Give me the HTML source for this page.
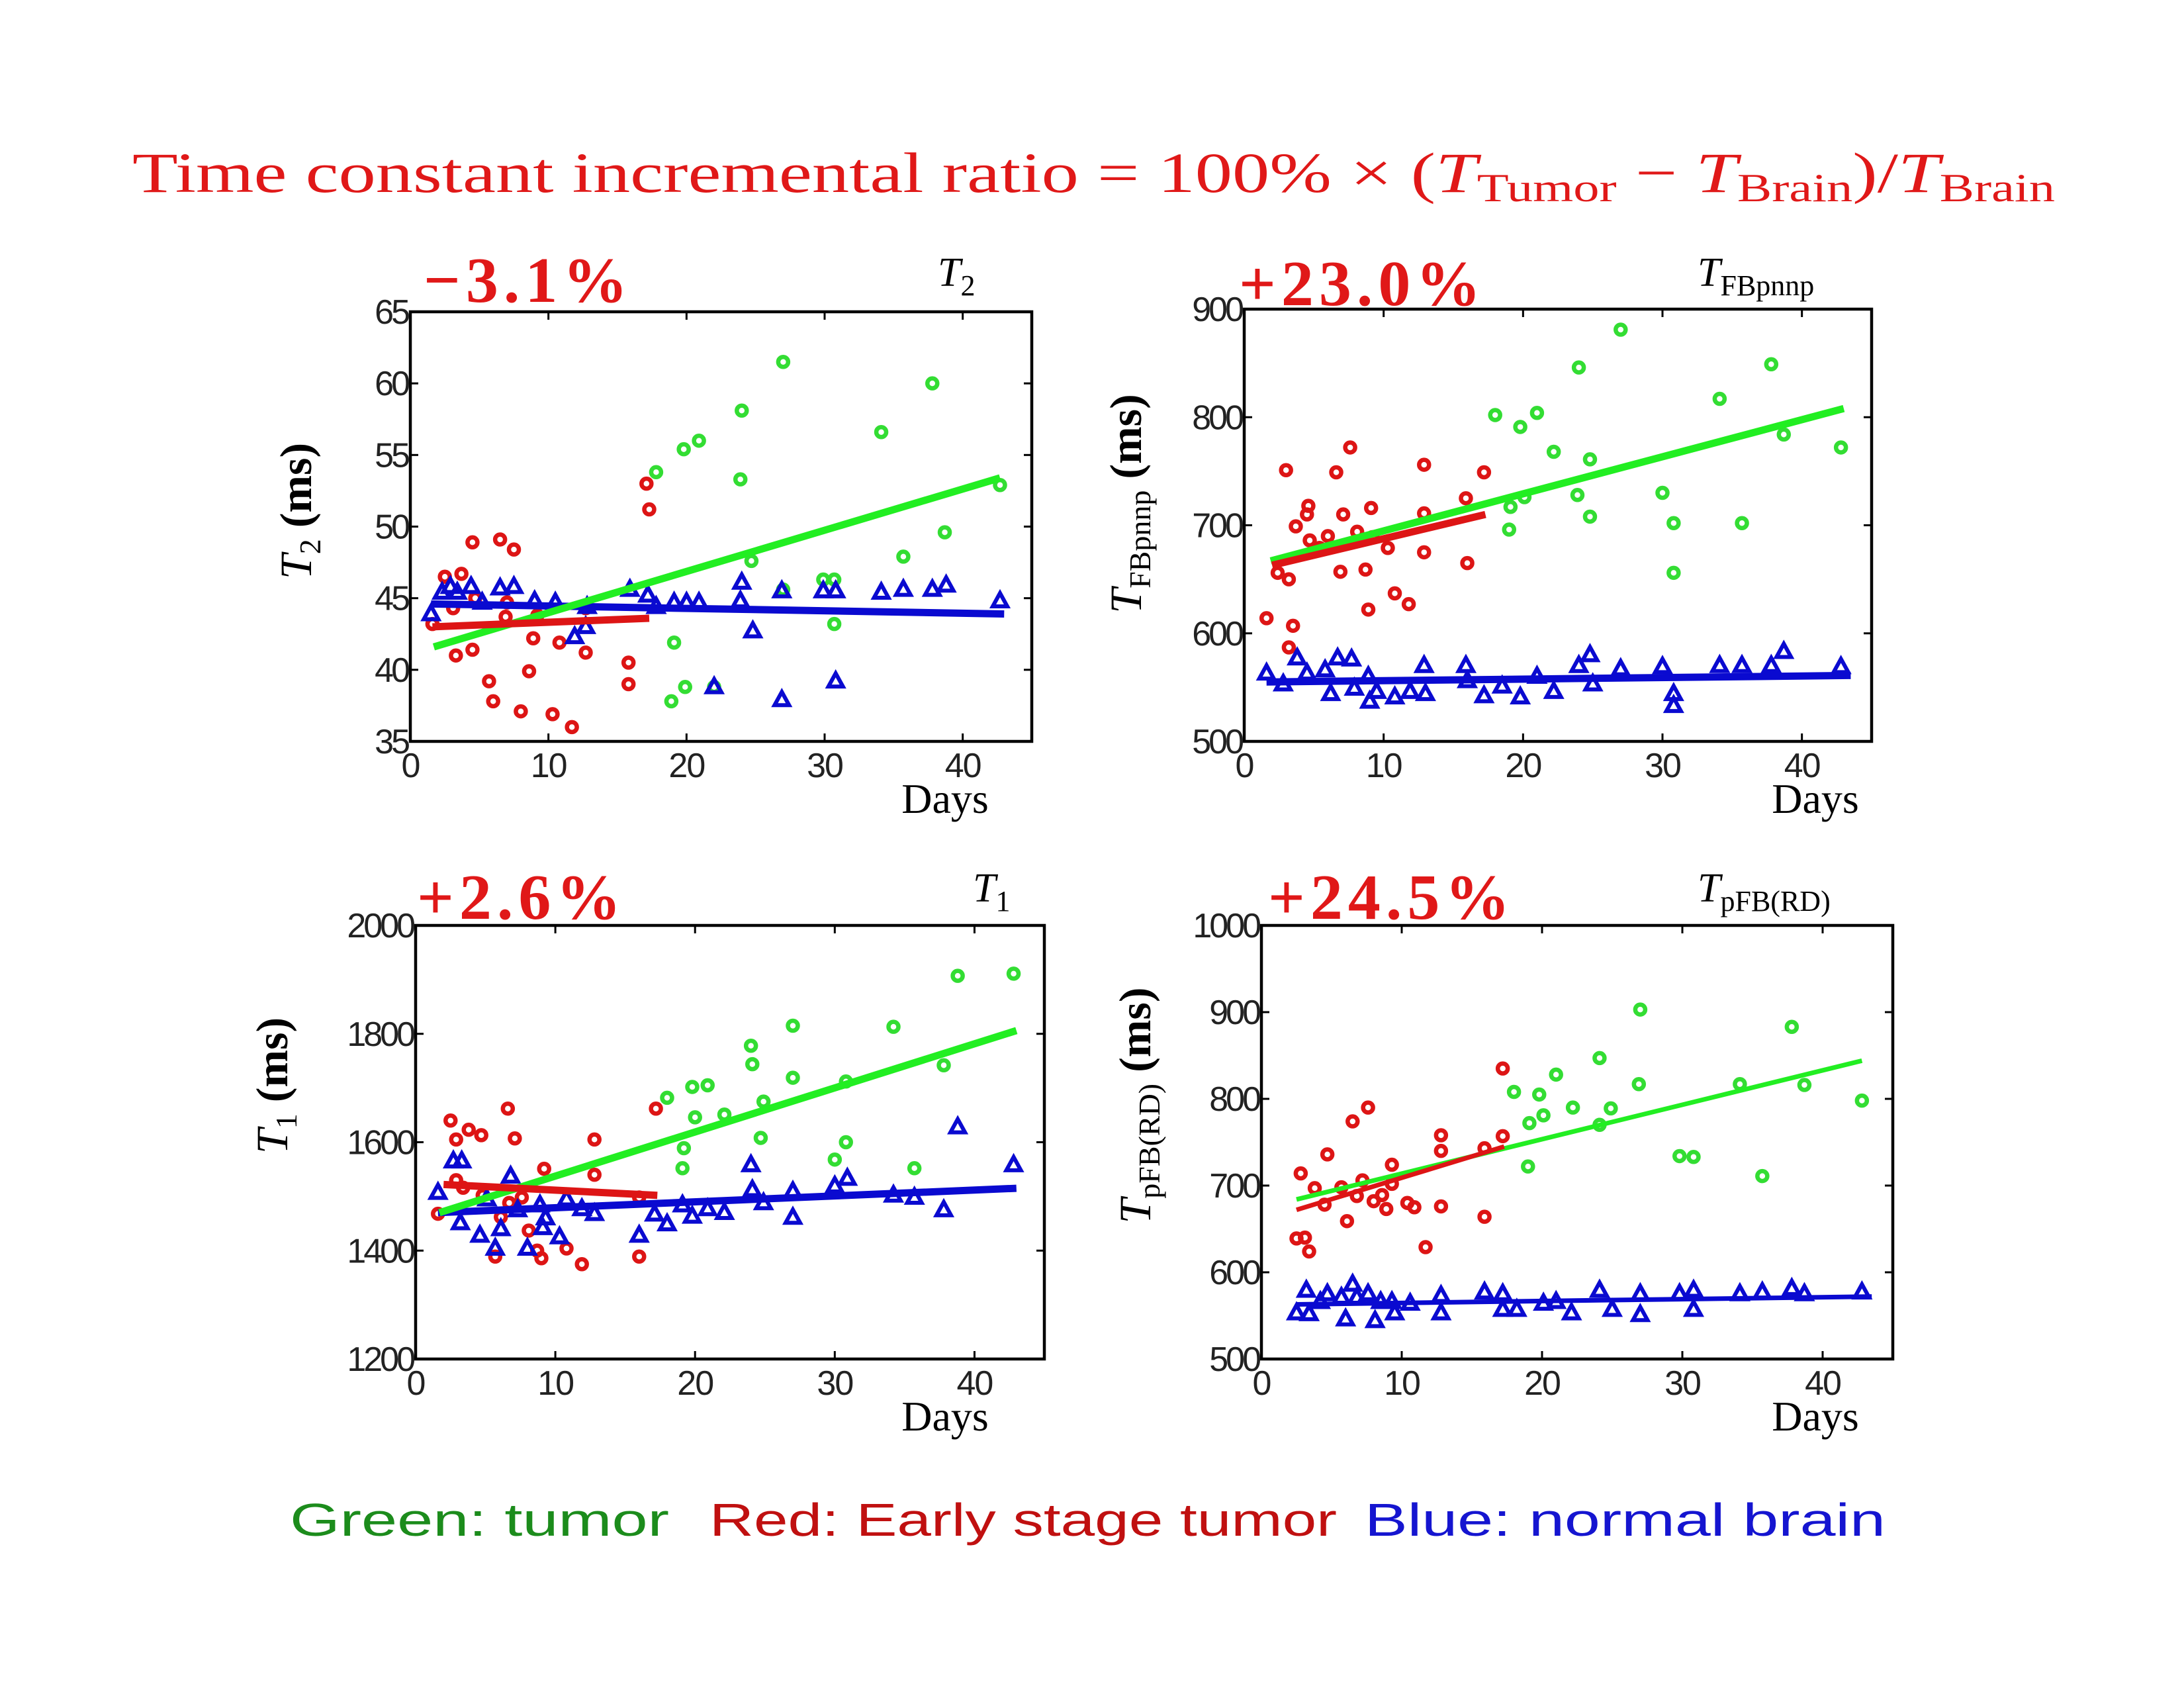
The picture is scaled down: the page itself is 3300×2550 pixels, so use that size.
<!DOCTYPE html>
<html><head><meta charset="utf-8"><style>
html,body{margin:0;padding:0;background:#fff;}
svg{display:block;}
</style></head><body>
<svg id="fig" width="3300" height="2550" viewBox="0 0 3300 2550" xmlns="http://www.w3.org/2000/svg">
<rect width="3300" height="2550" fill="#fff"/>
<text x="200" y="290" fill="#e01818" font-family="Liberation Serif, serif" font-size="86" textLength="2905" lengthAdjust="spacingAndGlyphs">Time constant incremental ratio = 100% × (<tspan font-style="italic">T</tspan><tspan font-size="60" dy="14">Tumor</tspan><tspan dy="-14"> − </tspan><tspan font-style="italic">T</tspan><tspan font-size="60" dy="14">Brain</tspan><tspan dy="-14">)/</tspan><tspan font-style="italic">T</tspan><tspan font-size="60" dy="14">Brain</tspan></text>
<g font-family="Liberation Sans, sans-serif" font-size="70">
<text x="438" y="2320" fill="#1c8c1c" textLength="573" lengthAdjust="spacingAndGlyphs">Green: tumor</text>
<text x="1072" y="2320" fill="#c01010" textLength="948" lengthAdjust="spacingAndGlyphs">Red: Early stage tumor</text>
<text x="2062" y="2320" fill="#1515d0" textLength="787" lengthAdjust="spacingAndGlyphs">Blue: normal brain</text>
</g>
</svg>
<script>
// ---------- Panel 1: T2 ----------
const p1GreenX=[27,37.8,24,34.1,19.8,20.9,17.8,23.9,42.7,38.7,24.7,35.7,29.9,30.7,27,30.7,19.1,19.9,18.9,22];
const p1GreenY=[61.5,60.0,58.1,56.6,55.4,56.0,53.8,53.3,52.9,49.6,47.6,47.9,46.3,46.3,45.6,43.2,41.9,38.8,37.8,38.8];
const p1RedX=[1.6,2.5,3.7,3.1,3.3,4.5,4.5,6.5,7.5,4.7,7.0,6.9,5.7,6.0,8.0,8.6,8.9,9.2,10.3,11.7,10.8,12.7,12.7,15.8,15.8,17.1,17.3];
const p1RedY=[43.2,46.5,46.7,44.3,41.0,41.4,48.9,49.1,48.4,45.0,44.7,43.7,39.2,37.8,37.1,39.9,42.2,43.8,36.9,36.0,41.9,41.2,44.3,40.5,39.0,53.0,51.2];
const p1BlueX=[1.5,2.3,2.9,3.4,4.4,5.2,6.5,7.5,9.0,10.5,11.9,12.7,12.8,15.9,17.2,17.8,19.1,20.0,20.9,22,24,23.9,24.8,26.9,26.9,29.9,30.8,30.8,34.1,35.7,37.8,38.8,42.7];
const p1BlueY=[43.9,45.4,45.8,45.4,45.8,44.7,45.7,45.8,44.8,44.7,42.3,43.0,44.4,45.6,45.2,44.4,44.7,44.7,44.7,38.8,46.1,44.8,42.7,37.9,45.5,45.5,45.5,39.2,45.4,45.6,45.6,45.9,44.8];
const p1GreenFit=[1.7,41.6,42.7,53.4];
const p1RedFit=[1.6,43.0,17.3,43.6];
const p1BlueFit=[1.5,44.6,43,43.9];
const p1YTicks=[35,40,45,50,55,60,65];
// ---------- Panel 2: T_FBpnnp ----------
const p2GreenX=[27,37.8,24,34.1,18,19.8,21,22.2,24.8,42.8,38.7,23.9,30,19.1,20.1,19,24.8,30.8,35.7,30.8];
const p2GreenY=[881,849,846,817,802,791,804,768,761,772,784,728,730,717,726,696,708,702,702,656];
const p2RedX=[1.6,3.0,2.4,3.2,3.5,3.2,3.7,4.5,4.6,4.7,5.4,6.0,6.6,6.9,7.1,7.6,8.1,8.7,8.9,9.1,9.2,10.3,10.8,11.8,12.9,12.9,12.9,15.9,16.0,17.2];
const p2RedY=[614,751,656,650,607,587,699,710,718,686,679,690,749,657,710,772,694,659,622,716,689,679,637,627,756,711,675,725,665,749];
const p2BlueX=[1.6,2.8,3.8,4.5,5.8,6.2,6.7,7.7,7.9,8.9,9.0,9.5,10.8,11.9,12.9,13.0,15.9,16.0,17.2,18.5,19.8,21.0,22.2,24.0,24.8,25.0,27.0,30.0,30.8,30.8,34.1,35.7,37.8,38.7,42.8];
const p2BlueY=[563,553,577,563,566,544,577,576,549,560,537,546,541,546,570,544,570,556,542,551,541,560,546,570,580,553,567,569,544,533,570,570,570,583,569];
const p2GreenFit=[1.9,667,43,808];
const p2RedFit=[2,663,17.3,710];
const p2BlueFit=[1.6,555,43.5,561];
const p2YTicks=[500,600,700,800,900];
// ---------- Panel 3: T1 ----------
const p3GreenX=[38.8,42.8,27.0,34.2,24.0,24.1,27.0,37.8,19.8,20.9,18.0,20.0,22.1,24.9,30.8,24.7,19.2,19.1,30.8,30.0,35.7];
const p3GreenY=[1907,1911,1815,1813,1778,1744,1719,1742,1702,1705,1682,1646,1651,1675,1712,1608,1589,1552,1600,1568,1552];
const p3RedX=[1.6,2.5,2.9,3.8,4.7,6.6,7.1,2.9,3.4,4.8,6.1,5.7,6.7,7.6,8.1,8.7,9.0,9.2,10.8,11.9,12.8,12.8,16.0,16.0,17.2];
const p3RedY=[1468,1640,1605,1623,1613,1662,1607,1530,1516,1502,1462,1389,1488,1498,1437,1400,1386,1551,1404,1375,1605,1540,1389,1498,1662];
const p3BlueX=[1.6,2.7,3.3,3.2,4.6,5.1,5.7,6.1,6.8,7.3,8.0,8.9,9.1,9.3,10.3,10.8,11.9,12.8,16.0,17.1,18.0,19.1,19.8,20.9,22.1,24.0,24.1,24.9,27.0,27.0,30.0,30.9,34.2,35.7,37.8,38.8,42.8];
const p3BlueY=[1507,1565,1565,1451,1428,1495,1404,1440,1537,1475,1404,1484,1442,1460,1425,1495,1477,1468,1428,1467,1449,1484,1463,1477,1470,1558,1512,1488,1461,1509,1519,1533,1502,1498,1475,1628,1558];
const p3GreenFit=[1.7,1470,43,1806];
const p3RedFit=[2,1522,17.3,1502];
const p3BlueFit=[1.6,1470,43,1515];
const p3YTicks=[1200,1400,1600,1800,2000];
// ---------- Panel 4: T_pFB(RD) ----------
const p4GreenX=[27.0,37.8,24.1,21.0,18.0,19.8,26.9,34.1,38.7,42.8,22.2,24.9,19.1,20.1,24.1,29.8,30.8,35.7,19.0];
const p4GreenY=[903,883,847,828,808,805,817,817,816,798,790,789,772,781,770,734,733,711,722];
const p4RedX=[2.5,3.1,3.4,2.8,3.8,4.5,4.7,5.7,6.1,6.5,7.6,6.8,7.2,8.0,8.6,8.9,9.3,9.3,10.4,10.9,11.7,12.8,12.8,12.8,15.9,15.9,17.2,17.2];
const p4RedY=[639,640,624,714,697,678,736,698,659,774,790,688,706,682,689,673,724,702,680,675,629,758,740,676,664,743,757,835];
const p4BlueX=[2.5,3.2,3.4,4.2,4.7,5.7,6.0,6.5,6.8,7.6,8.1,8.5,9.3,9.5,10.6,12.8,12.8,15.9,17.2,17.2,18.2,20.1,21.0,22.1,24.1,25.0,27.0,27.0,29.8,30.8,30.8,34.1,35.7,37.8,38.7,42.8];
const p4BlueY=[553,579,552,566,575,571,546,586,571,575,544,566,566,553,564,573,553,577,575,557,557,564,566,553,579,557,575,551,575,579,557,575,577,581,575,577];
const p4GreenFit=[2.5,684,42.8,844];
const p4RedFit=[2.5,672,17.3,745];
const p4BlueFit=[2.5,563,43.5,572];
const p4YTicks=[500,600,700,800,900,1000];
const xTicks=[0,10,20,30,40];

const NS='http://www.w3.org/2000/svg';
const svg=document.getElementById('fig');
const GREEN='#33dd33', RED='#dd1515', BLUE='#0a0ad0';
function el(tag,attrs,parent){const e=document.createElementNS(NS,tag);for(const k in attrs)e.setAttribute(k,attrs[k]);(parent||svg).appendChild(e);return e;}

function panel(cfg){
  const g=el('g',{});
  
  
  const L=cfg.box[0],R=cfg.box[1],T=cfg.box[2],B=cfg.box[3];
  const sx=v=>L+(v-0)/(45-0)*(R-L);
  const ymin=cfg.yTicks[0],ymax=cfg.yTicks[cfg.yTicks.length-1];
  const sy=v=>B-(v-ymin)/(ymax-ymin)*(B-T);
  const series=[[cfg.greenX,cfg.greenY,GREEN,'o','green-tumor'],[cfg.redX,cfg.redY,RED,'o','red-early-tumor'],[cfg.blueX,cfg.blueY,BLUE,'t','blue-normal-brain']];
  series.forEach(s=>{
    const sg=el('g',{},g);
    
    
    for(let i=0;i<s[0].length;i++){
      const x=sx(s[0][i]),y=sy(s[1][i]);
      let m;
      if(s[3]==='o') m=el('circle',{cx:x,cy:y,r:7.5,fill:'none',stroke:s[2],'stroke-width':6.5},sg);
      else m=el('polygon',{points:`${x},${y-12} ${x-11},${y+8} ${x+11},${y+8}`,fill:'none',stroke:s[2],'stroke-width':6,'stroke-linejoin':'miter'},sg);
      
      
    }
  });
  const fits=[[cfg.blueFit,BLUE,'blue-fit-line'],[cfg.greenFit,'#22ee22','green-fit-line'],[cfg.redFit,RED,'red-fit-line']];
  fits.forEach(f=>{
    const ln=el('line',{x1:sx(f[0][0]),y1:sy(f[0][1]),x2:sx(f[0][2]),y2:sy(f[0][3]),stroke:f[1],'stroke-width':cfg.lw},g);
    
    
  });
  const bx=el('rect',{x:L,y:T,width:R-L,height:B-T,fill:'none',stroke:'#000','stroke-width':4.5},g);
  
  
  xTicks.forEach(v=>{
    const x=sx(v);
    if(v>0){el('line',{x1:x,y1:B,x2:x,y2:B-12,stroke:'#000','stroke-width':3},g);el('line',{x1:x,y1:T,x2:x,y2:T+12,stroke:'#000','stroke-width':3},g);}
    const t=el('text',{x:x,y:B+54,'text-anchor':'middle','font-family':'Liberation Sans, sans-serif','font-size':52,fill:'#222','letter-spacing':-2},g);
    t.textContent=v;
    
    
  });
  cfg.yTicks.forEach(v=>{
    const y=sy(v);
    el('line',{x1:L,y1:y,x2:L+12,y2:y,stroke:'#000','stroke-width':3},g);
    el('line',{x1:R,y1:y,x2:R-12,y2:y,stroke:'#000','stroke-width':3},g);
    const t=el('text',{x:L-4,y:y+18,'text-anchor':'end','font-family':'Liberation Sans, sans-serif','font-size':52,fill:'#222','letter-spacing':-4},g);
    t.textContent=v;
    
    
  });
  const xl=el('text',{x:cfg.daysX,y:B+108,'text-anchor':'middle','font-family':'Liberation Serif, serif','font-size':64,fill:'#000'},g);
  xl.textContent='Days';
  
  
  const yl=el('text',{transform:`translate(${cfg.ylab[0]},${cfg.ylab[1]}) rotate(-90)`,'text-anchor':'middle','font-family':'Liberation Serif, serif','font-size':68,fill:'#000'},g);
  yl.innerHTML=`<tspan font-style="italic">T</tspan><tspan font-size="46" dy="14">${cfg.sub}</tspan><tspan dy="-14" font-weight="bold"> (ms)</tspan>`;
  
  
  const pc=el('text',{x:cfg.pct[0],y:cfg.pct[1],'font-family':'Liberation Serif, serif','font-weight':'bold','font-size':98,fill:'#e01818','letter-spacing':8},g);
  pc.textContent=cfg.pctText;
  
  
  const st=el('text',{x:cfg.st[0],y:cfg.st[1],'font-family':'Liberation Serif, serif','font-size':62,fill:'#000'},g);
  st.innerHTML=`<tspan font-style="italic">T</tspan><tspan font-size="44" dy="14">${cfg.sub}</tspan>`;
  
  
}
panel({name:'panel-t2',box:[620,1559,471,1120],yTicks:p1YTicks,greenX:p1GreenX,greenY:p1GreenY,redX:p1RedX,redY:p1RedY,blueX:p1BlueX,blueY:p1BlueY,greenFit:p1GreenFit,redFit:p1RedFit,blueFit:p1BlueFit,lw:11,daysX:1428,ylab:[470,772],sub:'2',pct:[640,456],pctText:'−3.1%',st:[1417,432]});
panel({name:'panel-tfbpnnp',box:[1880,2828,467,1120],yTicks:p2YTicks,greenX:p2GreenX,greenY:p2GreenY,redX:p2RedX,redY:p2RedY,blueX:p2BlueX,blueY:p2BlueY,greenFit:p2GreenFit,redFit:p2RedFit,blueFit:p2BlueFit,lw:11,daysX:2743,ylab:[1724,761],sub:'FBpnnp',pct:[1872,461],pctText:'+23.0%',st:[2565,432]});
panel({name:'panel-t1',box:[628,1578,1398,2053],yTicks:p3YTicks,greenX:p3GreenX,greenY:p3GreenY,redX:p3RedX,redY:p3RedY,blueX:p3BlueX,blueY:p3BlueY,greenFit:p3GreenFit,redFit:p3RedFit,blueFit:p3BlueFit,lw:11,daysX:1428,ylab:[434,1640],sub:'1',pct:[630,1388],pctText:'+2.6%',st:[1470,1362]});
panel({name:'panel-tpfbrd',box:[1906,2860,1398,2053],yTicks:p4YTicks,greenX:p4GreenX,greenY:p4GreenY,redX:p4RedX,redY:p4RedY,blueX:p4BlueX,blueY:p4BlueY,greenFit:p4GreenFit,redFit:p4RedFit,blueFit:p4BlueFit,lw:7,daysX:2743,ylab:[1738,1670],sub:'pFB(RD)',pct:[1916,1388],pctText:'+24.5%',st:[2565,1362]});
</script>
</body></html>
